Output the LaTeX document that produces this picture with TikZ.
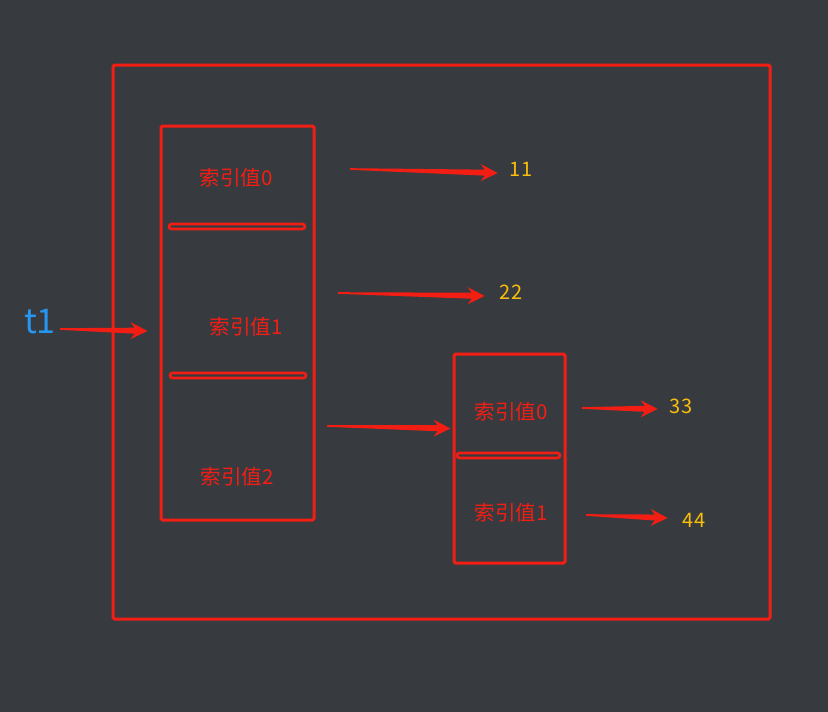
\documentclass[tikz,border=0pt]{standalone}
\usepackage{fontspec}
\setmainfont{Noto Sans CJK SC}
\usetikzlibrary{calc,positioning}

\definecolor{bgdark}{RGB}{55,59,64}
\definecolor{boxred}{RGB}{242,30,20}
\definecolor{keyblue}{RGB}{38,150,240}
\definecolor{valyellow}{RGB}{250,190,10}

% tapered red arrow: thin tail, wide head
\newcommand\taper[2]{%
  \fill[boxred] ($(#1)+(0,0.8pt)$) -- ($(#2)!13pt!(#1)+(0,3pt)$)
    -- ($(#2)!17pt!(#1)+(0,8.5pt)$) -- (#2)
    -- ($(#2)!17pt!(#1)+(0,-8.5pt)$) -- ($(#2)!13pt!(#1)+(0,-3pt)$)
    -- ($(#1)+(0,-0.8pt)$) -- cycle;}

\begin{document}
\begin{tikzpicture}[x=1pt, y=-1pt,
    box/.style={draw=boxred, line width=3pt, rounded corners=1.5pt, inner sep=0pt},
    divider/.style={draw=boxred, line width=2.6pt, rounded corners=2.5pt},
    cell/.style={text=boxred, font=\fontsize{20.5}{20.5}\selectfont, inner sep=0pt},
    value/.style={text=valyellow, font=\fontsize{20}{20}\selectfont, inner sep=0pt}]
    % Background
    \fill[bgdark] (0,0) rectangle (828,712);
    \useasboundingbox (0,0) rectangle (828,712);

    % Outer frame
    \node[box, minimum width=657pt, minimum height=554pt] (frame) at (441.5,342) {};

    % First array
    \node[box, minimum width=153pt, minimum height=394pt] (arr) at (237.5,323) {};
    \draw[divider] (169,224) rectangle (305,229);
    \draw[divider] (170,373) rectangle (306,378);
    \node[cell] (a0) at (236,178) {索引值0};
    \node[cell] (a1) at (246,327) {索引值1};
    \node[cell] (a2) at (237,477) {索引值2};

    % Nested array
    \node[box, minimum width=111pt, minimum height=209pt] (sub) at (509.5,458.5) {};
    \draw[divider] (457,453) rectangle (560,458);
    \node[cell] (b0) at (511,412) {索引值0};
    \node[cell] (b1) at (511,513) {索引值1};

    % Key and values
    \node[text=keyblue, font=\fontsize{34}{34}\selectfont, inner sep=0pt] (key) at (40,322) {t1};
    \node[value] (v11) at (521,169) {11};
    \node[value] (v22) at (511,292) {22};
    \node[value] (v33) at (681,406) {33};
    \node[value] (v44) at (694,520) {44};

    % Arrows
    \coordinate (keytail) at ($(key.east)+(4,7)$);
    \coordinate (keyhead) at ($(arr.west)+(-12,8)$);
    \coordinate (a0tail) at (350,169);
    \coordinate (a0head) at ($(v11.west)+(-12,4)$);
    \coordinate (a1tail) at (338,293);
    \coordinate (a1head) at ($(v22.west)+(-15,4)$);
    \coordinate (a2tail) at (327,426);
    \coordinate (a2head) at ($(sub.west)+(-2,-30)$);
    \coordinate (b0tail) at (582,408);
    \coordinate (b0head) at ($(v33.west)+(-12,3)$);
    \coordinate (b1tail) at (586,515);
    \coordinate (b1head) at ($(v44.west)+(-15,-2)$);
    \taper{keytail}{keyhead}
    \taper{a0tail}{a0head}
    \taper{a1tail}{a1head}
    \taper{a2tail}{a2head}
    \taper{b0tail}{b0head}
    \taper{b1tail}{b1head}
\end{tikzpicture}
\end{document}
